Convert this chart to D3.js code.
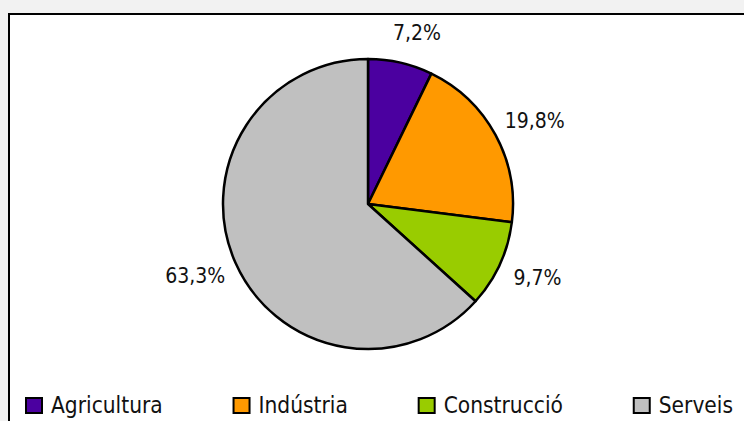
<!DOCTYPE html>
<html>
<head>
<meta charset="utf-8">
<script src="https://cdn.jsdelivr.net/npm/d3@7"></script>
<style>
  body { margin: 0; background: #f2f2f2; }
  svg { display: block; font-family: "DejaVu Sans Condensed", "DejaVu Sans", sans-serif; }
</style>
</head>
<body>
<script>
// data
var categories = ["Agricultura", "Indústria", "Construcció", "Serveis"];
var shares = [7.2, 19.8, 9.7, 63.3];
var labels = ["7,2%", "19,8%", "9,7%", "63,3%"];
var colors = ["#4b00a0", "#ff9900", "#99cc00", "#c0c0c0"];

var width = 744, height = 421;
var cx = 368, cy = 204, radius = 145;

var svg = d3.select("body").append("svg")
    .attr("width", width)
    .attr("height", height);

// chart area frame (runs off the right and bottom edge)
svg.append("rect")
    .attr("x", 9).attr("y", 14)
    .attr("width", width).attr("height", height)
    .style("fill", "white")
    .style("stroke", "black")
    .style("stroke-width", 2);

var pie = d3.pie().sort(null).value(d => d);
var arcs = pie(shares);
var arc = d3.arc().innerRadius(0).outerRadius(radius);
var labelArc = d3.arc().innerRadius(176).outerRadius(176);

var g = svg.append("g").attr("transform", "translate(" + cx + "," + cy + ")");

g.selectAll("path")
    .data(arcs)
    .enter()
    .append("path")
    .attr("d", arc)
    .style("fill", (d, i) => colors[i])
    .style("stroke", "black")
    .style("stroke-width", 2.5)
    .style("stroke-linejoin", "round");

// labels outside the pie, pushed sideways by part of their width
g.selectAll("text")
    .data(arcs)
    .enter()
    .append("text")
    .attr("text-anchor", "middle")
    .attr("dy", "0.35em")
    .style("font-size", "21px")
    .style("fill", "#111")
    .text((d, i) => labels[i])
    .each(function(d) {
        var c = labelArc.centroid(d);
        var w = this.getComputedTextLength();
        var side = c[0] >= 0 ? 1 : -1;
        d3.select(this)
            .attr("x", c[0] + side * w * 0.2)
            .attr("y", c[1]);
    });

// legend, entries laid out by their text widths over the bottom row
var legendLeft = 25, legendRight = 733, boxSize = 17, textGap = 9;

var legend = svg.selectAll(".legend")
    .data(categories)
    .enter()
    .append("g")
    .attr("class", "legend");

legend.append("rect")
    .attr("x", 1).attr("y", 1)
    .attr("width", boxSize - 1).attr("height", boxSize - 2)
    .style("fill", (d, i) => colors[i])
    .style("stroke", "black")
    .style("stroke-width", 2);

legend.append("text")
    .attr("x", boxSize + textGap)
    .attr("y", 16)
    .style("font-size", "22.5px")
    .style("fill", "#111")
    .text(d => d);

var entryWidths = [];
legend.select("text").each(function() {
    entryWidths.push(boxSize + textGap + this.getComputedTextLength());
});
var spacing = (legendRight - legendLeft - d3.sum(entryWidths)) / (categories.length - 1);
var x = legendLeft;
legend.attr("transform", function(d, i) {
    var t = "translate(" + x + ",397)";
    x += entryWidths[i] + spacing;
    return t;
});
</script>
</body>
</html>
